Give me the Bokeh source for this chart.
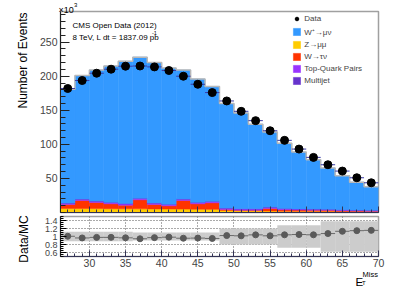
import math
import numpy as np
from bokeh.plotting import figure
from bokeh.layouts import column
from bokeh.models import (ColumnDataSource, FixedTicker, SingleIntervalTicker, Label,
                          Legend, LegendItem, Range1d, CustomJSTickFormatter)
from bokeh.embed import file_html
from bokeh.resources import INLINE

# ---------------- data (values in units of 10^3 events) ----------------
bin_left = [26, 28, 30, 32, 34, 36, 38, 40, 42, 44, 46, 48, 50, 52, 54, 56, 58, 60, 62, 64, 66, 68]
bin_right = [28, 30, 32, 34, 36, 38, 40, 42, 44, 46, 48, 50, 52, 54, 56, 58, 60, 62, 64, 66, 68, 70]
bin_center = [27, 29, 31, 33, 35, 37, 39, 41, 43, 45, 47, 49, 51, 53, 55, 57, 59, 61, 63, 65, 67, 69]

data_k = [182, 193.7, 204.4, 210.3, 214.7, 215, 213.7, 208.4, 200, 188.2, 176,
          163.7, 148.5, 134.8, 120, 105.9, 93.1, 80.9, 70.1, 60.8, 51, 43.6]
wmunu_k = [167.2, 181.3, 192.1, 200.1, 208.9, 207.1, 205.9, 199.9, 189.1, 181.1, 168.6,
           153.4, 140.5, 124.0, 110.1, 95.8, 83.4, 72.5, 60.5, 49.7, 40.9, 34.5]
zmumu_k = [6.0, 6.0, 5.8, 5.6, 5.5, 5.4, 5.3, 5.2, 5.0, 4.8, 4.6,
           3.0, 2.6, 2.4, 2.2, 2.0, 1.9, 1.8, 1.7, 1.5, 1.4, 1.3]
wtaunu_k = [5.8, 11.6, 8.9, 7.1, 5.3, 13.2, 6.5, 4.6, 12.6, 7.9, 9.6,
            1.4, 0.8, 1.0, 3.7, 2.0, 1.6, 1.6, 1.5, 1.1, 0.8, 0.7]
ttbar_k = [1.6, 1.7, 1.8, 1.8, 1.9, 1.9, 1.9, 1.9, 1.9, 1.8, 1.8,
           1.8, 1.7, 1.7, 1.6, 1.5, 1.5, 1.4, 1.3, 1.2, 1.1, 1.0]
multijet_k = [0.4, 0.4, 0.4, 0.4, 0.4, 0.4, 0.4, 0.4, 0.4, 0.4, 0.4,
              0.4, 0.4, 0.4, 0.4, 0.3, 0.3, 0.3, 0.3, 0.3, 0.3, 0.3]
ratio_unc = [0.12, 0.12, 0.12, 0.12, 0.12, 0.10, 0.10, 0.10, 0.10, 0.10, 0.10,
             0.20, 0.20, 0.20, 0.20, 0.28, 0.28, 0.28, 0.38, 0.38, 0.38, 0.38]

y_ticks = [50, 100, 150, 200, 250]
y_minor = [0, 10, 20, 30, 40, 50, 60, 70, 80, 90, 100, 110, 120, 130, 140, 150, 160, 170,
           180, 190, 200, 210, 220, 230, 240, 250, 260, 270, 280, 290]
ratio_ticks = [0.6, 0.8, 1.0, 1.2, 1.4]
ratio_minor = [0.5, 0.55, 0.6, 0.65, 0.7, 0.75, 0.8, 0.85, 0.9, 0.95, 1.0, 1.05, 1.1,
               1.15, 1.2, 1.25, 1.3, 1.35, 1.4, 1.45, 1.5]

labels = ["Data", "W\u207a\u2192\u03bc\u03bd", "Z\u2192\u03bc\u03bc", "W\u2192\u03c4\u03bd",
          "Top-Quark Pairs", "Multijet"]
colors = {"wmunu": "#3399ff", "zmumu": "#ffcc00", "wtaunu": "#ff3300",
          "ttbar": "#9933ff", "multijet": "#6633cc"}

FONT = "Liberation Sans"
W, H = 398, 287
FL, FR = 60, 378
P1_TOP, P1_BOT = 11, 212
P2_TOP, P2_BOT = 216, 256
P1_H = 214
P2_H = H - P1_H

mc_total = (np.array(wmunu_k) + np.array(zmumu_k) + np.array(wtaunu_k)
            + np.array(ttbar_k) + np.array(multijet_k))
ratio = np.array(data_k) / mc_total


def style_common(p):
    p.grid.visible = False
    p.background_fill_color = "white"
    p.border_fill_color = "white"
    p.outline_line_color = "#a0a0a0"
    p.outline_line_width = 1.5


# ---------------- main panel ----------------
p1 = figure(frame_width=FR - FL, frame_height=P1_BOT - P1_TOP,
            min_border_left=FL, min_border_right=W - FR,
            min_border_top=P1_TOP, min_border_bottom=P1_H - P1_BOT,
            x_range=Range1d(26, 70), y_range=Range1d(0, 295),
            output_backend="svg", toolbar_location=None)
style_common(p1)

src = ColumnDataSource(dict(x=bin_center, zmumu=zmumu_k, wtaunu=wtaunu_k, ttbar=ttbar_k,
                            multijet=multijet_k, wmunu=wmunu_k))
stackers = ["zmumu", "wtaunu", "ttbar", "multijet", "wmunu"]
cols = [colors[s] for s in stackers]
rs = p1.vbar_stack(stackers, x="x", width=2, fill_color=cols, line_color=cols,
                   line_width=0.5, source=src)

p1.step(x=bin_left + [bin_right[-1]], y=list(mc_total) + [mc_total[-1]], mode="after",
        line_color="#b8b8b8", line_width=1.5)

p1.segment(x0=bin_left, x1=bin_right, y0=data_k, y1=data_k, line_color="#3a3aa8", line_width=1)
pts = p1.scatter(x=bin_center, y=data_k, size=8, fill_color="black", line_color="black")

legend = Legend(items=[LegendItem(label=labels[0], renderers=[pts]),
                       LegendItem(label=labels[1], renderers=[rs[4]]),
                       LegendItem(label=labels[2], renderers=[rs[0]]),
                       LegendItem(label=labels[3], renderers=[rs[1]]),
                       LegendItem(label=labels[4], renderers=[rs[2]]),
                       LegendItem(label=labels[5], renderers=[rs[3]])],
                location=(232.3, 127.5), border_line_color=None, background_fill_alpha=0,
                label_text_font=FONT, label_text_font_size="8px",
                glyph_width=9, glyph_height=9, label_height=9, label_standoff=3,
                spacing=3, padding=0, margin=0)
p1.add_layout(legend)

ya = p1.yaxis[0]
ya.ticker = FixedTicker(ticks=y_ticks, minor_ticks=y_minor)
ya.major_tick_in = 9
ya.major_tick_out = 0
ya.minor_tick_in = 5
ya.minor_tick_out = 0
ya.major_label_text_font = FONT
ya.major_label_text_font_size = "10.5px"
ya.major_label_standoff = 3
ya.axis_line_color = "#222222"
ya.major_tick_line_color = "#222222"
ya.minor_tick_line_color = "#222222"

xa = p1.xaxis[0]
xa.ticker = SingleIntervalTicker(interval=5, num_minor_ticks=5)
xa.major_tick_in = 6
xa.major_tick_out = 0
xa.minor_tick_in = 3
xa.minor_tick_out = 0
xa.formatter = CustomJSTickFormatter(code="return ''")
xa.major_label_standoff = 0
xa.axis_line_color = "#333355"
xa.major_tick_line_color = "#333355"
xa.minor_tick_line_color = "#333355"

# ---------------- ratio panel ----------------
p2 = figure(frame_width=FR - FL, frame_height=P2_BOT - P2_TOP,
            min_border_left=FL, min_border_right=W - FR,
            min_border_top=P2_TOP - P1_H, min_border_bottom=P2_H - (P2_BOT - P1_H),
            x_range=p1.x_range, y_range=Range1d(0.5, 1.5),
            output_backend="svg", toolbar_location=None)
style_common(p2)

band_lo = [1 - e for e in ratio_unc]
band_hi = [1 + e for e in ratio_unc]
p2.quad(left=bin_left, right=bin_right, bottom=band_lo, top=band_hi,
        fill_color="#cccccc", line_color=None)

p2.xgrid.visible = True
p2.ygrid.visible = True
p2.xgrid.ticker = SingleIntervalTicker(interval=5)
p2.ygrid.ticker = FixedTicker(ticks=ratio_ticks)
for g in (p2.xgrid[0], p2.ygrid[0]):
    g.grid_line_color = "#555555"
    g.grid_line_dash = "1 2"
    g.grid_line_width = 1

p2.segment(x0=bin_left, x1=bin_right, y0=ratio, y1=ratio, line_color="#6a6a6a", line_width=1)
p2.scatter(x=bin_center, y=ratio, size=6, fill_color="#5a5a5a", line_color="#5a5a5a")

ya2 = p2.yaxis[0]
ya2.ticker = FixedTicker(ticks=ratio_ticks, minor_ticks=ratio_minor)
ya2.major_tick_in = 6
ya2.major_tick_out = 0
ya2.minor_tick_in = 3
ya2.minor_tick_out = 0
ya2.major_label_text_font = FONT
ya2.major_label_text_font_size = "9px"
ya2.major_label_standoff = 3
ya2.major_label_overrides = {1: "1"}
ya2.axis_line_color = "#222222"

xa2 = p2.xaxis[0]
xa2.ticker = SingleIntervalTicker(interval=5, num_minor_ticks=5)
xa2.major_tick_in = 6
xa2.major_tick_out = 0
xa2.minor_tick_in = 3
xa2.minor_tick_out = 0
xa2.major_label_text_font = FONT
xa2.major_label_text_font_size = "10.5px"
xa2.major_label_standoff = 2
xa2.axis_line_color = "#333355"
xa2.major_tick_line_color = "#333355"
xa2.minor_tick_line_color = "#333355"

layout = column(p1, p2, spacing=0,
                styles={"position": "absolute", "left": "0px", "top": "0px"})

# ---------------- transparent text overlay (page pixel coordinates) ----------------
ov = figure(width=W, height=H, min_border=0, x_axis_type=None, y_axis_type=None,
            x_range=Range1d(0, W), y_range=Range1d(H, 0),
            output_backend="svg", toolbar_location=None,
            styles={"position": "absolute", "left": "0px", "top": "0px",
                    "pointer-events": "none"})
ov.grid.visible = False
ov.outline_line_color = None
ov.background_fill_color = None
ov.border_fill_color = None


def tlabel(px, py, text, size, align="left", baseline="alphabetic", angle=0.0):
    ov.add_layout(Label(x=px, y=py, text=text, text_font=FONT, text_font_size=size,
                        text_align=align, text_baseline=baseline, angle=angle,
                        text_color="black"))


tlabel(22, 60, "Number of Events", "12px", align="center", baseline="middle", angle=math.pi / 2)
tlabel(58, 9.5, "\u00d710", "9px")
tlabel(73.5, 4.5, "3", "6px")
tlabel(72, 24.5, "CMS Open Data (2012)", "8px")
tlabel(72, 36.5, "8 TeV, L dt = 1837.09 pb", "8px")
tlabel(151.5, 32.5, "-1", "5.5px")
tlabel(23, 238.5, "Data/MC", "12px", align="center", baseline="middle", angle=math.pi / 2)
tlabel(355, 281, "E", "11.5px")
tlabel(361.5, 282.5, "T", "6px")
tlabel(362, 273.5, "Miss", "7.5px")

open("out.html", "w").write(file_html([layout, ov], INLINE))
